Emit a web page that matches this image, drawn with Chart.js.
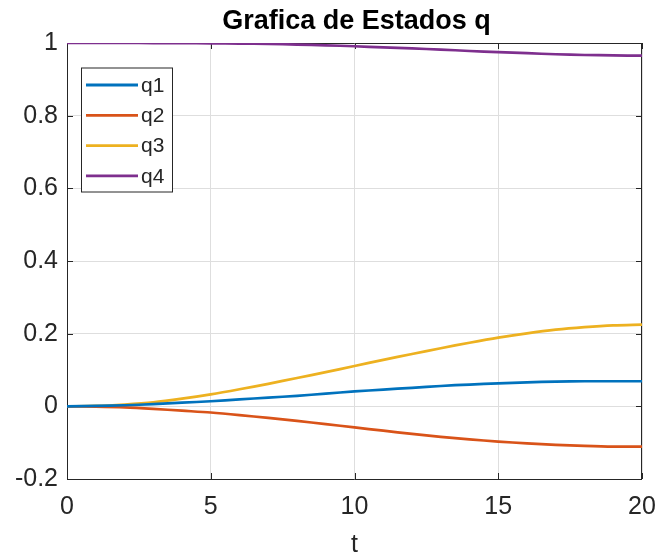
<!DOCTYPE html>
<html>
<head>
<meta charset="utf-8">
<script src="https://cdn.jsdelivr.net/npm/chart.js@4/dist/chart.umd.min.js"></script>
<style>
  html, body { margin: 0; padding: 0; background: #ffffff; }
  #wrap { width: 660px; height: 556px; }
</style>
</head>
<body>
<div id="wrap"><canvas id="c" width="660" height="556"></canvas></div>
<script>
// Time samples (s)
const t = [0, 1, 2, 3, 4, 5, 6, 7, 8, 9, 10, 11, 12, 13, 14, 15, 16, 17, 18, 19, 20];

// Quaternion components over time
const q1 = [0, 0.001, 0.003, 0.006, 0.010, 0.014, 0.019, 0.024, 0.029, 0.035, 0.041,
            0.046, 0.051, 0.056, 0.060, 0.063, 0.066, 0.068, 0.069, 0.069, 0.069];
const q2 = [0, -0.001, -0.003, -0.007, -0.012, -0.017, -0.024, -0.032, -0.040, -0.049, -0.058,
            -0.067, -0.076, -0.084, -0.091, -0.097, -0.102, -0.106, -0.109, -0.111, -0.111];
const q3 = [0, 0.001, 0.005, 0.011, 0.021, 0.033, 0.047, 0.062, 0.078, 0.094, 0.111,
            0.128, 0.144, 0.160, 0.175, 0.189, 0.201, 0.211, 0.218, 0.223, 0.225];
const q4 = [1, 1, 1, 0.9999, 0.9997, 0.9992, 0.9984, 0.9973, 0.9957, 0.9937, 0.991,
            0.988, 0.985, 0.982, 0.978, 0.975, 0.972, 0.969, 0.967, 0.966, 0.965];

const seriesNames = ['q1', 'q2', 'q3', 'q4'];
const seriesValues = [q1, q2, q3, q4];
const seriesColors = ['#0072BD', '#D95319', '#EDB120', '#7E2F8E'];

const chartTitle = 'Grafica de Estados q';
const xLabel = 't';

const FONT = "'Liberation Sans', Arial, Helvetica, sans-serif";
const AXIS_COLOR = '#262626';

// Axes box with inward tick marks, title, x label and legend
const decorations = {
  id: 'decorations',
  beforeDatasetsDraw(chart) {
    const { ctx, chartArea: a, scales } = chart;
    ctx.save();
    ctx.strokeStyle = AXIS_COLOR;
    ctx.lineWidth = 1;
    ctx.beginPath();
    ctx.rect(Math.round(a.left) + 0.5, Math.round(a.top) + 0.5,
             Math.round(a.right - a.left) - 1, Math.round(a.bottom - a.top));
    ctx.stroke();
    const tl = 6;
    ctx.beginPath();
    scales.x.ticks.forEach(tk => {
      const x = Math.round(scales.x.getPixelForValue(tk.value)) + 0.5;
      ctx.moveTo(x, a.bottom); ctx.lineTo(x, a.bottom - tl);
      ctx.moveTo(x, a.top); ctx.lineTo(x, a.top + tl);
    });
    scales.y.ticks.forEach(tk => {
      const y = Math.round(scales.y.getPixelForValue(tk.value)) + 0.5;
      ctx.moveTo(a.left, y); ctx.lineTo(a.left + tl, y);
      ctx.moveTo(a.right, y); ctx.lineTo(a.right - tl, y);
    });
    ctx.stroke();
    ctx.restore();
  },
  afterDraw(chart) {
    const { ctx, chartArea: a } = chart;
    ctx.save();
    const cx = (a.left + a.right) / 2;
    ctx.fillStyle = '#000000';
    ctx.textAlign = 'center';
    ctx.textBaseline = 'middle';
    ctx.font = 'bold 27px ' + FONT;
    ctx.fillText(chartTitle, cx + 2, 22);
    ctx.fillStyle = AXIS_COLOR;
    ctx.font = '25px ' + FONT;
    ctx.fillText(xLabel, cx, 545);

    // legend
    const lx = 81, ly = 67.5, lw = 91, lh = 124;
    ctx.fillStyle = '#ffffff';
    ctx.fillRect(lx, ly, lw, lh);
    ctx.strokeStyle = AXIS_COLOR;
    ctx.lineWidth = 1;
    ctx.strokeRect(lx + 0.5, ly + 0.5, lw, lh);
    ctx.font = '21px ' + FONT;
    ctx.textAlign = 'left';
    chart.data.datasets.forEach((ds, i) => {
      const y = 85 + i * 30.3;
      ctx.strokeStyle = ds.borderColor;
      ctx.lineWidth = 2.8;
      ctx.beginPath();
      ctx.moveTo(86, y); ctx.lineTo(138, y);
      ctx.stroke();
      ctx.fillStyle = AXIS_COLOR;
      ctx.fillText(ds.label, 141, y + 1);
    });
    ctx.restore();
  }
};

const datasets = seriesNames.map((name, i) => ({
  label: name,
  data: t.map((x, k) => ({ x: x, y: seriesValues[i][k] })),
  borderColor: seriesColors[i],
  backgroundColor: seriesColors[i],
  borderWidth: 2.7,
  pointRadius: 0,
  tension: 0.3,
  fill: false
}));

new Chart(document.getElementById('c'), {
  type: 'line',
  data: { datasets },
  options: {
    responsive: false,
    animation: false,
    layout: { padding: { top: 43, right: 18, bottom: 0, left: 0 } },
    plugins: { legend: { display: false }, title: { display: false }, tooltip: { enabled: false } },
    scales: {
      x: {
        type: 'linear', min: 0, max: 20,
        afterFit(s) { s.height = 77; s.paddingLeft = 0; s.paddingRight = 0; },
        border: { display: false },
        grid: { color: '#dedede', drawTicks: false, lineWidth: 1 },
        ticks: {
          stepSize: 5, padding: 13, color: AXIS_COLOR,
          font: { family: FONT, size: 25 },
          maxRotation: 0
        }
      },
      y: {
        min: -0.2, max: 1,
        afterFit(s) { s.width = 67; s.paddingTop = 0; s.paddingBottom = 0; },
        border: { display: false },
        grid: { color: '#dedede', drawTicks: false, lineWidth: 1 },
        ticks: {
          stepSize: 0.2, padding: 9, color: AXIS_COLOR,
          font: { family: FONT, size: 25 },
          callback: v => String(Number(v.toFixed(1)))
        }
      }
    }
  },
  plugins: [decorations]
});
</script>
</body>
</html>
